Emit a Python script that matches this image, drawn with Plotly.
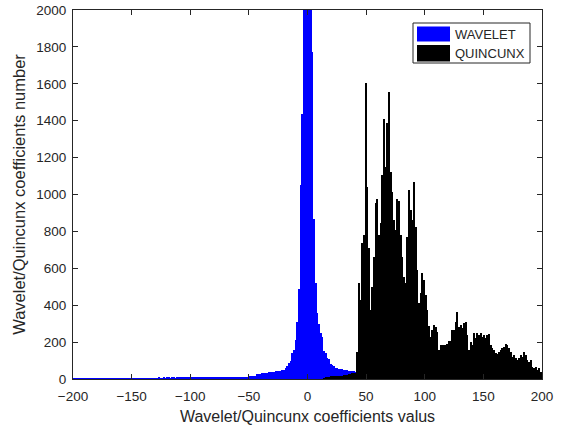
import numpy as np
import plotly.graph_objects as go

# ---- data (histogram counts on a common bin grid) ----
bin_width = 1.4215          # width of one histogram bin (coefficient units)
bin_origin = -4.97          # left edge of bin index 0

# WAVELET histogram: bins with index -len..-1 (left part) and 0.. (right part)
wavelet_left = [
    1, 2, 1, 1, 2, 1, 2, 2, 1, 2, 2, 1, 2, 2, 2, 1, 2, 3, 2, 2, 3, 2,
    4, 3, 5, 4, 3, 4, 5, 4, 3, 5, 4, 4, 5, 3, 4, 5, 4, 4, 5, 4, 5, 4, 5, 5, 4, 5, 4, 5, 5,
    5, 6, 5, 5, 6, 5, 6, 6, 5, 6, 6, 5, 6, 7, 6, 6, 7, 6, 7, 6, 7,
    7, 7, 6, 8, 7, 8, 7, 8, 8, 7, 9, 8, 8, 9, 8, 9, 9, 8, 10, 9, 9,
    10, 9, 10, 11, 10, 11, 11, 12, 11, 12, 12, 13, 13, 14, 14, 15, 16,
    18,
    25, 27, 28, 30, 32, 33, 35, 36, 38, 38, 40, 42, 43, 44, 46,
    48, 50, 60, 70, 85, 100, 140, 157, 211, 310, 490, 1051,
]
wavelet_right = [
    1436, 2600, 4000, 5200, 4500, 3000, 1772, 867,
    520, 360, 300, 250, 230, 150, 140, 115, 110, 80, 76, 70, 60, 58, 55,
    54, 52, 50, 48, 47, 45, 44, 43, 42, 40,
]

# QUINCUNX histogram: low part ends at bin 32, main part starts at bin 33
quincunx_low = [5, 8, 10, 12, 14, 15, 16, 15, 17, 16, 18, 17, 19, 20, 22, 25, 28, 30, 32, 35]
quincunx_main = [
    148, 519, 428, 735, 780, 1602, 1042, 710, 374, 500, 663, 952, 974, 780, 844,
    1106, 1407, 1151, 1386, 1557, 1124, 1015, 862, 808, 974, 966, 780, 663, 555,
    519, 771, 1024, 916, 862, 1069, 826, 591, 410, 464, 576, 537, 455, 374, 289,
    228, 266, 293, 283, 256, 157, 184, 184, 184, 187, 190, 206, 206, 266, 266,
    311, 365, 283, 293, 275, 302, 311, 238, 157, 202, 184, 248, 220, 248, 238,
    248, 229, 238, 220, 238, 243, 187, 166, 157, 139, 134, 148, 157, 166, 175,
    191, 187, 166, 148, 121, 130, 115, 103, 112, 130, 121, 148, 130, 103, 94,
    103, 67, 58, 67, 49, 58, 40, 31,
]
quincunx_main_first_bin = 33

x_ticks = [-200, -150, -100, -50, 0, 50, 100, 150, 200]
y_ticks = [0, 200, 400, 600, 800, 1000, 1200, 1400, 1600, 1800, 2000]
series_names = ["WAVELET", "QUINCUNX"]
series_colors = ["#0000FF", "#000000"]


def centers(first_bin, n):
    k = np.arange(first_bin, first_bin + n)
    return bin_origin + (k + 0.5) * bin_width


wav_counts = wavelet_left + wavelet_right
wav_x = centers(-len(wavelet_left), len(wav_counts))
qui_counts = quincunx_low + quincunx_main
qui_x = centers(quincunx_main_first_bin - len(quincunx_low), len(qui_counts))

fig = go.Figure()
fig.add_trace(go.Bar(x=wav_x, y=wav_counts, width=bin_width, name=series_names[0],
                     marker=dict(color=series_colors[0], line=dict(width=0)),
                     showlegend=False))
fig.add_trace(go.Bar(x=qui_x, y=qui_counts, width=bin_width, name=series_names[1],
                     marker=dict(color=series_colors[1], line=dict(width=0)),
                     showlegend=False))

font_family = "Liberation Sans, Arial, sans-serif"
axis_col = "#262626"

fig.update_layout(
    width=562, height=427,
    margin=dict(l=73, r=20, t=10, b=48),
    paper_bgcolor="white", plot_bgcolor="white",
    barmode="overlay", bargap=0,
    font=dict(family=font_family, color=axis_col, size=13.5),
)
fig.update_xaxes(
    range=[-200, 200], tickvals=x_ticks, ticks="inside", ticklen=5, tickcolor=axis_col,
    showline=True, linecolor=axis_col, linewidth=1, mirror="allticks", showgrid=False,
    zeroline=False, tickfont=dict(size=13.5, color=axis_col), ticklabelstandoff=5,
    automargin=False,
    title=dict(text="Wavelet/Quincunx coefficients valus", font=dict(size=16, color=axis_col), standoff=7),
)
fig.update_yaxes(
    range=[0, 2000], tickvals=y_ticks, ticks="inside", ticklen=5, tickcolor=axis_col,
    showline=True, linecolor=axis_col, linewidth=1, mirror="allticks", showgrid=False,
    zeroline=False, tickfont=dict(size=13.5, color=axis_col), ticklabelstandoff=3,
    automargin=False,
    title=dict(text="Wavelet/Quincunx coefficients number", font=dict(size=16.5, color=axis_col), standoff=6),
)

# legend box drawn in paper coordinates (MATLAB-style wide swatches)
pw, ph = 469.0, 369.0
def px(xp):
    return (xp - 73) / pw
def py(yp):
    return (379 - yp) / ph

fig.add_shape(type="rect", xref="paper", yref="paper", x0=px(413), x1=px(530), y0=py(63), y1=py(23),
              line=dict(color=axis_col, width=1), fillcolor="white", layer="above")
swatch_rows = [(26.5, 41.5), (45, 61.5)]
for name, col, (ya, yb) in zip(series_names, series_colors, swatch_rows):
    fig.add_shape(type="rect", xref="paper", yref="paper", x0=px(417), x1=px(450), y0=py(yb), y1=py(ya),
                  line=dict(width=0), fillcolor=col, layer="above")
    fig.add_annotation(xref="paper", yref="paper", x=px(453), y=py((ya + yb) / 2), text=name,
                       showarrow=False, xanchor="left", yanchor="middle",
                       font=dict(size=13, color=axis_col, family=font_family))

fig.write_html("out.html")
